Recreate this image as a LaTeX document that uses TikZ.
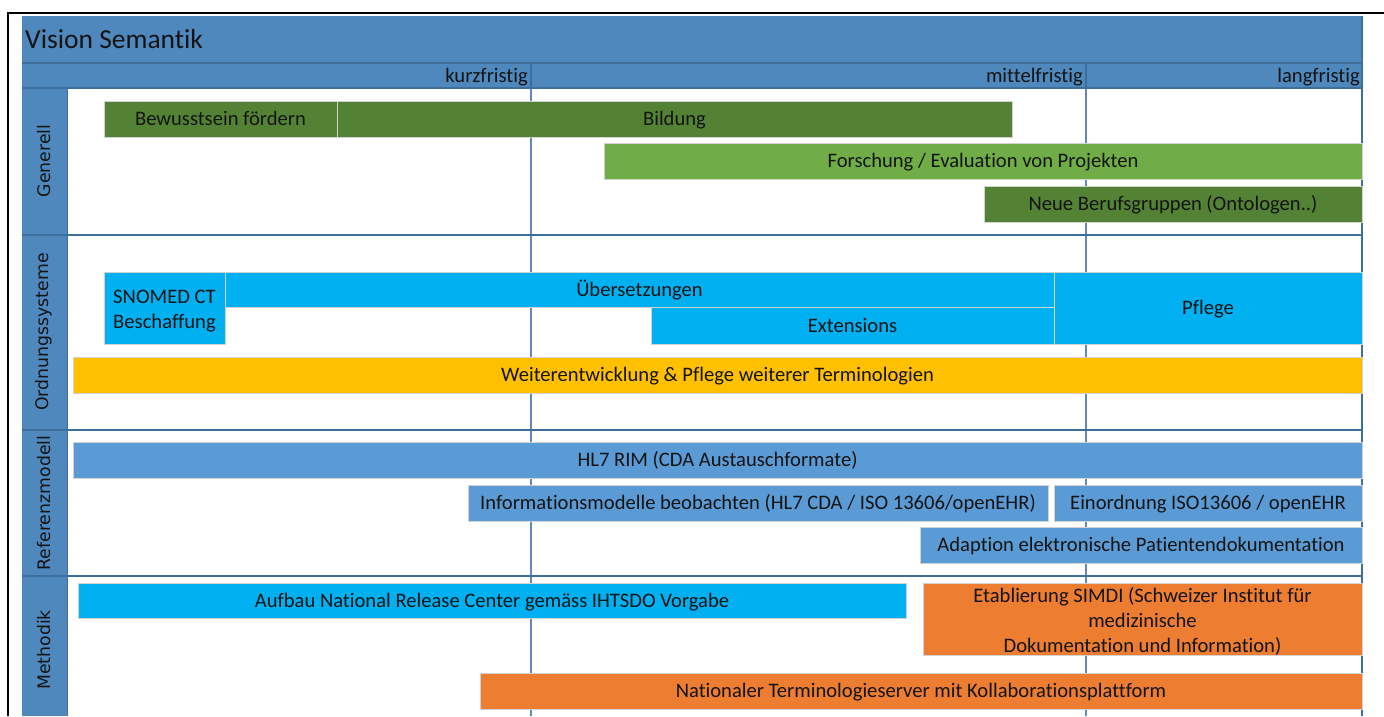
\documentclass[tikz,border=0pt]{standalone}
\usepackage{fontspec}
\setmainfont{Carlito}[Ligatures=NoCommon]
\newfontfamily\lanefont{DejaVu Sans}
\usepackage{tikz}
\usetikzlibrary{calc}

\definecolor{headblue}{RGB}{79,136,189}
\definecolor{lineblue}{RGB}{62,110,156}
\definecolor{gridblue}{RGB}{96,138,186}
\definecolor{darkgreen}{RGB}{84,130,53}
\definecolor{lightgreen}{RGB}{112,173,71}
\definecolor{cyanbar}{RGB}{0,176,240}
\definecolor{yellowbar}{RGB}{255,192,0}
\definecolor{bluebar}{RGB}{91,155,213}
\definecolor{orangebar}{RGB}{237,125,49}
\definecolor{inktext}{RGB}{20,20,20}

\begin{document}
\begin{tikzpicture}[x=1bp, y=-1bp]

% Styles
\tikzset{
  bar/.style={draw=gray!35, line width=0.8bp, inner sep=0pt, outer sep=0pt,
    anchor=north west, align=center, text=inktext,
    font=\fontsize{20.6bp}{25bp}\selectfont},
  oneline/.style={text height=16bp, text depth=3bp},
  lanelabel/.style={rotate=90, text=inktext, inner sep=0pt,
    font=\lanefont\fontsize{17.3bp}{20bp}\selectfont},
  timelabel/.style={anchor=base east, inner sep=0pt, text=inktext,
    font=\fontsize{20.6bp}{24bp}\selectfont},
  lane/.style={lineblue, line width=1.6bp},
  grid/.style={gridblue, line width=1.1bp}
}

\useasboundingbox (0,0) rectangle (1384,716);

% Frame
\draw[line width=2.5bp] (8,716) -- (8,13) -- (1384,13);

% Header and lane column
\fill[headblue] (22,16) rectangle (1362,88);
\fill[headblue] (22,88) rectangle (67,716);
\fill[white] (67,88) rectangle (1362,716);
\node[anchor=base west, inner sep=0pt, text=inktext,
  font=\fontsize{27.5bp}{30bp}\selectfont] (title) at (25,49) {Vision Semantik};

% Time scale
\draw[lane] (22,63) -- (1362,63);
\node[timelabel] (kurz) at (528,83) {kurzfristig};
\node[timelabel] (mittel) at (1083,83) {mittelfristig};
\node[timelabel] (lang) at (1360,83) {langfristig};
\draw[grid] (531,63) -- (531,716);
\draw[grid] (1086,63) -- (1086,716);
\draw[lineblue, line width=1.2bp] (531,63) -- (531,88);
\draw[lineblue, line width=1.2bp] (1086,63) -- (1086,88);
\draw[lineblue, line width=1.6bp] (1362,16) -- (1362,716);

% Lanes
\foreach \y in {88,235,430,576}
  \draw[lane] (22,\y) -- (1362,\y);
\draw[lineblue, line width=1bp] (67,88) -- (67,716);

\node[lanelabel] (generell) at (44,161) {Generell};
\node[lanelabel] (ordnung) at (44,332) {Ordnungssysteme};
\node[lanelabel] (referenz) at (44,503) {Referenzmodell};
\node[lanelabel] (methodik) at (44,650) {Methodik};

% Generell
\node[bar, oneline, fill=darkgreen, minimum width=233bp, minimum height=36bp] (bewusst) at (104,101) {Bewusstsein fördern};
\node[bar, oneline, fill=darkgreen, minimum width=675bp, minimum height=36bp] (bildung) at (337,101) {Bildung};
\node[bar, oneline, fill=lightgreen, minimum width=758bp, minimum height=36bp] (forschung) at (604,143) {Forschung / Evaluation von Projekten};
\node[bar, oneline, fill=darkgreen, minimum width=378bp, minimum height=36bp] (berufe) at (984,186) {Neue Berufsgruppen (Ontologen..)};

% Ordnungssysteme
\node[bar, fill=cyanbar, minimum width=121bp, minimum height=72bp, yshift=0bp] (snomed) at (104,272) {\rule{0pt}{19bp}SNOMED CT\\Beschaffung};
\node[bar, oneline, fill=cyanbar, minimum width=829bp, minimum height=35bp] (uebers) at (225,272) {Übersetzungen};
\node[bar, oneline, fill=cyanbar, minimum width=403bp, minimum height=37bp] (ext) at (651,307) {Extensions};
\node[bar, oneline, fill=cyanbar, minimum width=308bp, minimum height=72bp] (pflege) at (1054,272) {Pflege};
\node[bar, oneline, fill=yellowbar, minimum width=1289bp, minimum height=36bp] (weiter) at (73,357) {Weiterentwicklung \& Pflege weiterer Terminologien};

% Referenzmodell
\node[bar, oneline, fill=bluebar, minimum width=1289bp, minimum height=36bp] (hlsieben) at (73,442) {HL7 RIM (CDA Austauschformate)};
\node[bar, oneline, fill=bluebar, minimum width=580bp, minimum height=36bp] (infomod) at (468,485) {Informationsmodelle beobachten (HL7 CDA / ISO 13606/openEHR)};
\node[bar, oneline, fill=bluebar, minimum width=308bp, minimum height=36bp] (einord) at (1054,485) {Einordnung ISO13606 / openEHR};
\node[bar, oneline, fill=bluebar, minimum width=442bp, minimum height=36bp] (adapt) at (920,527) {Adaption elektronische Patientendokumentation};

% Methodik
\node[bar, oneline, fill=cyanbar, minimum width=828bp, minimum height=35bp] (aufbau) at (78,583) {Aufbau National Release Center gemäss IHTSDO Vorgabe};
\node[bar, fill=orangebar, minimum width=439bp, minimum height=72bp] (simdi) at (923,583) {\rule{0pt}{19bp}Etablierung SIMDI (Schweizer Institut für\\medizinische\\Dokumentation und Information)};
\node[bar, oneline, fill=orangebar, minimum width=882bp, minimum height=36bp] (terminol) at (480,673) {Nationaler Terminologieserver mit Kollaborationsplattform};

\end{tikzpicture}
\end{document}
